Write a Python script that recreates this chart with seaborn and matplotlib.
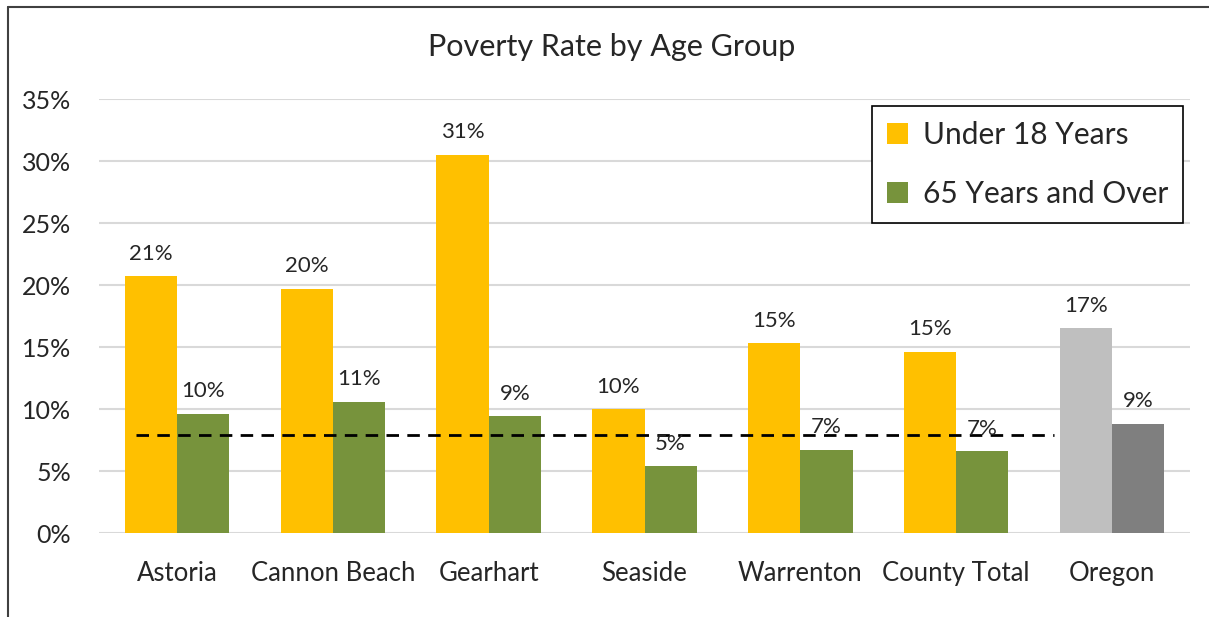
import pandas as pd
import matplotlib.pyplot as plt
import seaborn as sns
from matplotlib.lines import Line2D
from matplotlib.patches import Patch

places = ["Astoria", "Cannon Beach", "Gearhart", "Seaside", "Warrenton", "County Total", "Oregon"]
under18 = [20.7, 19.7, 30.5, 10.0, 15.3, 14.6, 16.5]
over65 = [9.6, 10.6, 9.4, 5.4, 6.7, 6.6, 8.8]
under18_labels = ["21%", "20%", "31%", "10%", "15%", "15%", "17%"]
over65_labels = ["10%", "11%", "9%", "5%", "7%", "7%", "9%"]
ref_level = 7.9
groups = ["Under 18 Years", "65 Years and Over"]

df = pd.DataFrame({
    "place": places * 2,
    "rate": under18 + over65,
    "group": [groups[0]] * len(places) + [groups[1]] * len(places),
})

sns.set_style("white")
plt.rcParams["font.family"] = ["Lato", "DejaVu Sans"]

fig = plt.figure(figsize=(12.09, 6.17), dpi=100)
ax = fig.add_axes([0.0819, 0.1361, 0.9024, 0.7034])

pal = {groups[0]: "#FFC000", groups[1]: "#77933C"}
sns.barplot(data=df, x="place", y="rate", hue="group", palette=pal,
            width=0.67, gap=0, saturation=1, linewidth=0, ax=ax, legend=False)

# Oregon in grey
ax.containers[0][6].set_facecolor("#BFBFBF")
ax.containers[1][6].set_facecolor("#7F7F7F")

# labels over bars
for cont, labs in zip(ax.containers, [under18_labels, over65_labels]):
    ax.bar_label(cont, labels=labs, padding=9, fontsize=16)

# county reference line
ax.hlines(ref_level, -0.26, 5.63, colors="black", linestyles=(0, (4.5, 3)), linewidth=2)

ax.set_ylim(0, 35)
ax.set_xlim(-0.5, 6.5)
ax.set_yticks(range(0, 36, 5))
ax.set_yticklabels([f"{v}%" for v in range(0, 36, 5)])
ax.yaxis.grid(True, color="#D9D9D9", linewidth=1.5)
ax.set_axisbelow(True)
for s in ax.spines.values():
    s.set_visible(False)
ax.tick_params(axis="y", length=0, pad=20, labelsize=18)
ax.tick_params(axis="x", length=0, pad=20, labelsize=18.5)
ax.set_xlabel("")
ax.set_ylabel("")

fig.text(0.506, 1 - 47 / 617, "Poverty Rate by Age Group", ha="center", va="center", fontsize=22)

handles = [Patch(facecolor=pal[g], edgecolor="none") for g in groups]
ax.legend(handles, groups, loc="upper right", bbox_to_anchor=(1183 / 1209, 1 - 106 / 617),
          bbox_transform=fig.transFigure, fontsize=21.5, frameon=True, fancybox=False,
          edgecolor="black", handlelength=0.7, handleheight=0.7, handletextpad=0.5,
          labelspacing=1.05, borderpad=0.5, borderaxespad=0, framealpha=1)
ax.get_legend().get_frame().set_linewidth(1.2)

# outer frame pieces
fig.add_artist(Line2D([8 / 1209, 8 / 1209], [0, 1 - 7 / 617], transform=fig.transFigure, color="#404040", lw=1.5))
fig.add_artist(Line2D([8 / 1209, 1], [1 - 7 / 617, 1 - 7 / 617], transform=fig.transFigure, color="#404040", lw=1.5))

fig.savefig("out.png", dpi=100)
